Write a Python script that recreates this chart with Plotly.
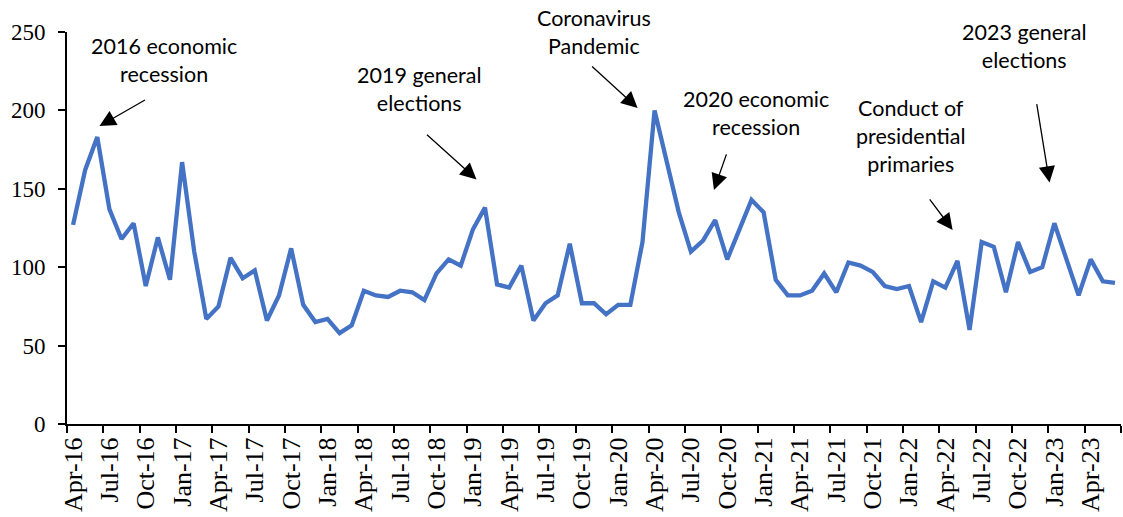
import plotly.graph_objects as go

months = ["Jan", "Feb", "Mar", "Apr", "May", "Jun", "Jul", "Aug", "Sep", "Oct", "Nov", "Dec"]
# Monthly categories Apr-16 .. Jun-23
categories = []
for yr in range(16, 24):
    for m in months:
        categories.append(f"{m}-{yr}")
categories = categories[categories.index("Apr-16"):categories.index("Jun-23") + 1]

values = [
    127, 162, 183, 137, 118, 128, 88, 119, 92, 167,
    110, 67, 75, 106, 93, 98, 66, 82, 112, 76,
    65, 67, 58, 63, 85, 82, 81, 85, 84, 79,
    96, 105, 101, 124, 138, 89, 87, 101, 66, 77,
    82, 115, 77, 77, 70, 76, 76, 116, 200, 168,
    135, 110, 117, 130, 105, 124, 143, 135, 92, 82,
    82, 85, 96, 84, 103, 101, 97, 88, 86, 88,
    65, 91, 87, 104, 60, 116, 113, 84, 116, 97,
    100, 128, 106, 82, 105, 91, 90,
]

x_idx = list(range(len(categories)))
tick_idx = x_idx[::3]
tick_text = categories[::3]

# annotations: (text, text_x_idx, text_y, tip_x_idx, tip_y, tail_dx_px, tail_dy_px)
notes = [
    ("2016 economic<br>recession", 7.5, 232, 2.18, 190, 47, -27),
    ("2019 general<br>elections", 28.6, 213.5, 33.3, 156, -51, -46),
    ("Coronavirus<br>Pandemic", 43.0, 249.8, 46.6, 201.5, -47, -43),
    ("2020 economic<br>recession", 56.4, 198.5, 52.9, 149.3, 13, -37),
    ("Conduct of<br>presidential<br>primaries", 69.2, 183.8, 72.6, 123.8, -24, -32),
    ("2023 general<br>elections", 78.5, 240.8, 80.6, 154, -13, -80),
]

fig = go.Figure()
fig.add_trace(go.Scatter(
    x=x_idx, y=values, mode="lines",
    line=dict(color="#4472C4", width=4.3),
    hoverinfo="skip", showlegend=False,
))

annotations = []
for text, tx, ty, ax_i, ay_v, dx, dy in notes:
    annotations.append(dict(
        x=tx, y=ty, xref="x", yref="y", text=text, showarrow=False,
        font=dict(family="Lato", size=21.5, color="#000000"),
        xanchor="center", yanchor="middle", align="center",
    ))
    annotations.append(dict(
        x=ax_i, y=ay_v, xref="x", yref="y", text="", showarrow=True,
        ax=dx, ay=dy, axref="pixel", ayref="pixel",
        arrowhead=2, arrowsize=2.5, arrowwidth=1.3, arrowcolor="#000000",
        standoff=0, startstandoff=0,
    ))

fig.update_layout(
    width=1123, height=517,
    margin=dict(l=67, r=2, t=32, b=93),
    paper_bgcolor="white", plot_bgcolor="white",
    annotations=annotations,
    xaxis=dict(
        range=[-0.5, len(categories) - 0.5],
        tickmode="array", tickvals=tick_idx, ticktext=tick_text,
        tickangle=-90, ticks="",
        tickfont=dict(family="Liberation Serif", size=26, color="#000000"),
        showline=True, linecolor="#000000", linewidth=2,
        showgrid=False, zeroline=False,
        minor=dict(ticks="outside", tick0=-0.5, dtick=3, ticklen=7,
                   tickwidth=2, tickcolor="#000000", showgrid=False),
        ticklabelstandoff=1,
    ),
    yaxis=dict(
        range=[0, 250], tickvals=[0, 50, 100, 150, 200, 250],
        ticks="outside", ticklen=7, tickwidth=2, tickcolor="#000000",
        tickfont=dict(family="Liberation Serif", size=23, color="#000000"),
        showline=True, linecolor="#000000", linewidth=2,
        showgrid=False, zeroline=False,
        ticklabelstandoff=8,
    ),
)

fig.write_html("out.html")
